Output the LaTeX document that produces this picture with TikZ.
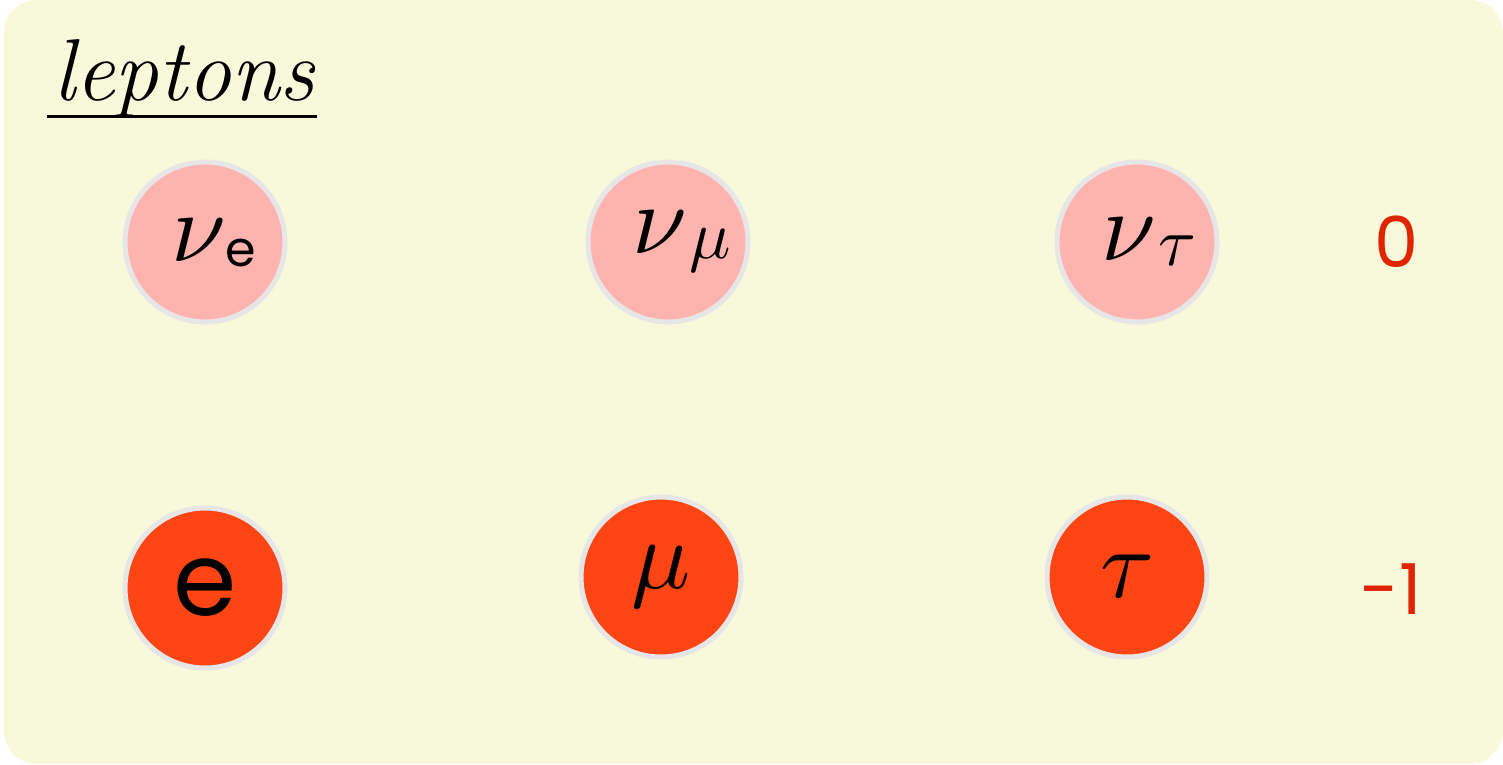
\documentclass[tikz,border=0pt]{standalone}
\usepackage{amsmath}
\usepackage{fontspec}
\usepackage{unicode-math}
\setsansfont{Poppins}
\usepackage{xcolor}
\usepackage{tikz}
\usetikzlibrary{positioning, calc}

\definecolor{paper}{HTML}{F8F8DA}
\definecolor{ringgray}{HTML}{E6E6E6}
\definecolor{nupink}{HTML}{FFB3AE}
\definecolor{chorange}{HTML}{FF4513}
\definecolor{chred}{HTML}{E02400}

% flavour index, set low beside the nu
\newcommand{\flav}[1]{\lower0.1cm\hbox{#1}}

\begin{document}
\begin{tikzpicture}[
  x = 0.02cm, y = -0.02cm,
  ball/.style = {
    circle, draw=ringgray, line width=0.1cm,
    minimum size=3.2cm, inner sep=0pt,
    font=\fontsize{56}{60}\selectfont
  },
  nuball/.style = {ball, fill=nupink},
  chball/.style = {ball, fill=chorange},
  charge/.style = {font=\sffamily\fontsize{40}{44}\selectfont, text=chred},
  ttlfont/.style = {font=\itshape\fontsize{50}{54}\selectfont},
  uline/.style   = {line width=0.06cm}
]

\useasboundingbox (0,0) rectangle (1503,764);
\fill[paper, rounded corners=0.66cm] (4,0) rectangle (1503,764);

%% ---- title ----
\node[ttlfont, anchor=base west, inner sep=0pt] (ttl) at (53,100) {leptons};
\draw[uline] ($(ttl.base west)+(-6,16.5)$) -- ($(ttl.base east)+(2,16.5)$);

%% ---- neutrinos (top row) ----
\node[nuball] (nue) at (205,242)
  {\kern0.35cm$\nu$\flav{\sffamily\fontsize{28}{30}\selectfont e}};
\node[nuball] (num) at (668,242)
  {\kern0.55cm$\nu$\kern0.05cm\flav{$\scriptstyle\mu$}};
\node[nuball] (nut) at (1137,242)
  {\kern0.45cm$\nu$\kern0.05cm\flav{$\scriptstyle\tau$}};

%% ---- charged leptons (bottom row) ----
\node[chball] (ele) at (205,588)
  {\raisebox{-0.1cm}{\sffamily\fontsize{58}{62}\selectfont e}};
\node[chball] (muo) at (661,577) {$\mu$};
\node[chball] (tau) at (1127,577) {$\tau$};

%% ---- charges ----
\node[charge] (q0) at (1397,242) {0};
\node[charge] (q1) at (1391,589) {-1};

\end{tikzpicture}
\end{document}
